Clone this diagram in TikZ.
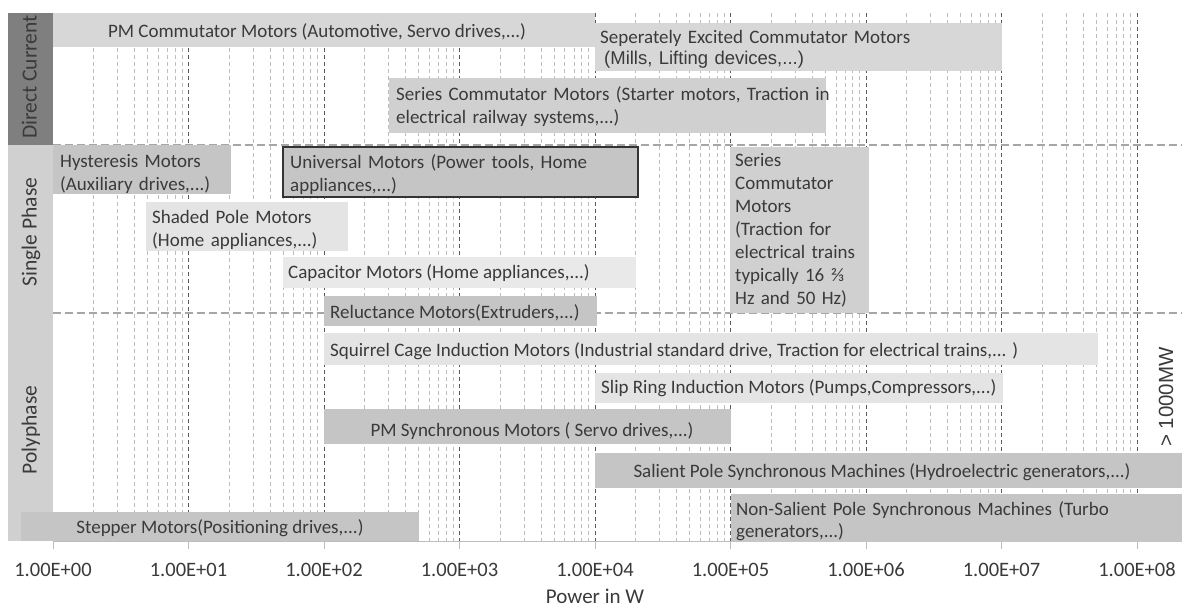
\documentclass[tikz,border=0pt]{standalone}
\usepackage{fontspec}
\setmainfont{Carlito}
\newfontfamily\arialf{Liberation Sans}
\definecolor{txt}{HTML}{3A3A3A}
\definecolor{dccol}{HTML}{7F7F7F}
\definecolor{phcol}{HTML}{D0D0D0}
\definecolor{barA}{HTML}{D7D7D7}
\definecolor{barB}{HTML}{D0D0D0}
\definecolor{barC}{HTML}{C5C5C5}
\definecolor{barD}{HTML}{E4E4E4}
\definecolor{gridmin}{HTML}{BDBDBD}
\definecolor{gridmaj}{HTML}{5A5A5A}
\definecolor{sepline}{HTML}{A6A6A6}
\begin{document}
\begin{tikzpicture}[x=1pt,y=-1pt,
  lbl/.style={inner sep=0pt, text=txt, font=\fontsize{19}{23}\selectfont, anchor=base west},
  ml/.style={lbl, text width=600pt, align=left},
  ctr/.style={lbl, anchor=base},
  cat/.style={inner sep=0pt, text=txt, font=\fontsize{21.5}{24}\selectfont, anchor=base, rotate=90},
  tick/.style={inner sep=0pt, text=txt, font=\fontsize{20.5}{22}\selectfont, anchor=base},
  minor/.style={draw=gridmin, line width=0.9pt, dash pattern=on 4pt off 3pt},
  major/.style={draw=gridmaj, line width=0.9pt, dash pattern=on 4pt off 3pt},
  sep/.style={draw=sepline, line width=1.3pt, dash pattern=on 8pt off 4pt}
]
\useasboundingbox (0,0) rectangle (1182,608);
\fill[white] (0,0) rectangle (1182,608);

% grid
\foreach \d in {0,...,7} {
  \foreach \m in {2,...,9} {
    \draw[minor] ({53+135.5*(\d+log10(\m))},13) -- ({53+135.5*(\d+log10(\m))},541);
  }
}
\foreach \d in {1,...,8} {
  \draw[major] ({53+135.5*\d},13) -- ({53+135.5*\d},541);
}

% separators
\draw[sep] (53,145) -- (1182,145);
\draw[sep] (53,313) -- (1182,313);

% axis
\draw[gridmin, line width=1pt] (53,541) -- (1182,541);
\foreach \d in {0,...,8} {
  \draw[gridmin, line width=1pt] ({53+135.5*\d},541) -- ({53+135.5*\d},549);
}

% category column
\fill[dccol] (8,13) rectangle (53,145);
\fill[phcol] (8,145) rectangle (53,541);

% bars
\fill[barA] (53,13) rectangle (595,47);
\fill[barA] (595,23) rectangle (1002,71);
\fill[barB] (389,78) rectangle (826,133);
\fill[barC] (53,145) rectangle (231,194);
\fill[barC] (283,147) rectangle (638,197);
\draw[txt!90!black, line width=1.8pt] (283,147) rectangle (638,197);
\fill[barD] (146,202) rectangle (348,251);
\fill[barD!80!white] (283,257) rectangle (636,288);
\fill[barB] (730,147) rectangle (869,313);
\fill[barC] (324,296) rectangle (597,326);
\fill[barD] (324,333) rectangle (1098,365);
\fill[barD] (595,373) rectangle (1003,403);
\fill[barC] (324,409) rectangle (731,444);
\fill[barC] (595,453) rectangle (1182,488);
\fill[barC] (731,494) rectangle (1182,542);
\fill[barC] (21,512) rectangle (419,541);

% bar labels
\node[ctr] (pmc) at (317,37) {PM Commutator Motors (Automotive, Servo drives,...)};
\node[ml] (sec) at (600,43) {Seperately Excited Commutator Motors\\[-2pt]{\arialf\fontsize{18.5}{21}\selectfont\hspace*{4pt}(Mills, Lifting devices,...)}};
\node[ml] (scdc) at (396,100) {Series Commutator Motors (Starter motors, Traction in\\electrical railway systems,...)};
\node[ml] (hys) at (60,167) {Hysteresis Motors\\(Auxiliary drives,...)};
\node[ml] (uni) at (290,168) {Universal Motors (Power tools, Home\\appliances,...)};
\node[ml] (shp) at (152,223) {Shaded Pole Motors\\(Home appliances,...)};
\node[lbl] (cap) at (288,278) {Capacitor Motors (Home appliances,...)};
\node[ml] (scac) at (735,166) {Series\\Commutator\\Motors\\(Traction for\\electrical trains\\typically 16 ⅔\\Hz and 50 Hz)};
\node[lbl] (rel) at (330,318) {Reluctance Motors(Extruders,...)};
\node[lbl] (sqc) at (330,356) {Squirrel Cage Induction Motors (Industrial standard drive, Traction for electrical trains,... )};
\node[lbl] (slip) at (601,393) {Slip Ring Induction Motors (Pumps,Compressors,...)};
\node[ctr] (pms) at (532,436) {PM Synchronous Motors ( Servo drives,...)};
\node[ctr] (sal) at (882,477) {Salient Pole Synchronous Machines (Hydroelectric generators,...)};
\node[ml] (nsal) at (736,515) {Non-Salient Pole Synchronous Machines (Turbo\\[-1pt]generators,...)};
\node[ctr] (step) at (220,533) {Stepper Motors(Positioning drives,...)};

% categories
\node[cat] (dc) at (36.5,77) {Direct Current};
\node[cat] (sp) at (36.5,232) {Single Phase};
\node[cat] (pp) at (36.5,430) {Polyphase};
\node[inner sep=0pt, text=txt, font=\arialf\fontsize{20.5}{24}\selectfont, anchor=base, rotate=90] (gw) at (1173,397) {> 1000MW};

% tick labels
\node[tick] (t0) at (53,576) {1.00E+00};
\node[tick] (t1) at (188.5,576) {1.00E+01};
\node[tick] (t2) at (324,576) {1.00E+02};
\node[tick] (t3) at (459.5,576) {1.00E+03};
\node[tick] (t4) at (595,576) {1.00E+04};
\node[tick] (t5) at (730.5,576) {1.00E+05};
\node[tick] (t6) at (866,576) {1.00E+06};
\node[tick] (t7) at (1001.5,576) {1.00E+07};
\node[tick] (t8) at (1137,576) {1.00E+08};
\node[inner sep=0pt, text=txt, font=\fontsize{21}{24}\selectfont, anchor=base] (xl) at (595,603) {Power in W};
\end{tikzpicture}
\end{document}
